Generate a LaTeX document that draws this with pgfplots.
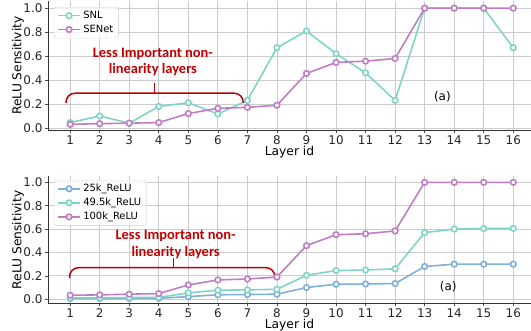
\documentclass[border=0pt]{standalone}
\usepackage{pgfplots}
\pgfplotsset{compat=1.18}
\usepackage{fontspec}
\setmainfont{DejaVu Sans}
\newfontfamily\annfont{Carlito}
\definecolor{cteal}{HTML}{80D4C4}
\definecolor{cpurple}{HTML}{C07CC4}
\definecolor{cblue}{HTML}{7EB0DA}
\definecolor{cred}{HTML}{C00000}

\pgfplotsset{
 myax/.style={
  scale only axis, width=483bp, xmin=0.25, xmax=16.6,
  axis lines=left, axis line style={-, color=black!80, line width=0.8pt},
  xtick={1,...,16}, ytick={0,0.2,0.4,0.6,0.8,1.0},
  yticklabel style={/pgf/number format/fixed, /pgf/number format/fixed zerofill, /pgf/number format/precision=1},
  grid=major, major grid style={black!20, line width=0.8pt},
  tick style={black!70, line width=0.6pt}, tick align=outside, major tick length=3bp,
  /pgf/number format/assume math mode=true,
  tick label style={font=\fontsize{12}{12}\selectfont, text=black!85},
  xticklabel style={yshift=1bp},
  yticklabel style={xshift=1bp},
  label style={font=\fontsize{12.3}{13}\selectfont},
  xlabel={Layer id},
  ylabel={ReLU Sensitivity},
  xlabel style={at={(axis description cs:0.5,0)}, anchor=center, yshift=-22bp},
  ylabel style={at={(axis description cs:-0.062,0.5)}, anchor=center},
  legend style={font=\fontsize{10}{10}\selectfont, draw=black!20, rounded corners=2pt, fill=white, fill opacity=0.8, text opacity=1, row sep=1bp, inner xsep=3bp, inner ysep=2bp},
  legend cell align=left,
  legend image code/.code={\draw[mark repeat=2, mark phase=2, ##1] plot coordinates {(0cm,0cm)(0.4cm,0cm)(0.8cm,0cm)};},
  every axis plot/.append style={line width=1.6pt, mark=*, mark size=2.8pt, mark options={fill=white, solid}},
 }
}

\begin{document}
\begin{tikzpicture}
\useasboundingbox (-48bp,-27.7bp) rectangle (483bp,303.3bp);

% ---------------- top panel ----------------
\begin{axis}[myax, at={(0,173.3bp)}, anchor=south west, height=129bp, ymin=-0.017, ymax=1.06,
  legend style={at={(0.012,0.953)}, anchor=north west}]
\addplot[cteal] coordinates {(1,0.045)(2,0.10)(3,0.04)(4,0.18)(5,0.21)(6,0.117)(7,0.23)(8,0.67)(9,0.81)(10,0.62)(11,0.46)(12,0.23)(13,1.0)(14,1.0)(15,1.0)(16,0.67)};
\addlegendentry{SNL}
\addplot[cpurple] coordinates {(1,0.03)(2,0.036)(3,0.04)(4,0.045)(5,0.12)(6,0.164)(7,0.172)(8,0.19)(9,0.455)(10,0.547)(11,0.558)(12,0.58)(13,1.0)(14,1.0)(15,1.0)(16,1.0)};
\addlegendentry{SENet}
\draw[cred, line width=1.5pt, rounded corners=9bp] (axis cs:0.86,0.21) |- (axis cs:3.86,0.29) -| (axis cs:6.86,0.21);
\draw[cred, line width=1.5pt] (axis cs:3.86,0.29) -- (axis cs:3.86,0.375);
\node[cred, font=\annfont\bfseries\fontsize{14.5}{16.7}\selectfont, align=center] at (axis cs:3.8,0.55) {Less Important non-\\linearity layers};
\node[font=\fontsize{12}{12}\selectfont] at (axis cs:13.6,0.26) {(a)};
\end{axis}

% ---------------- bottom panel ----------------
\begin{axis}[myax, at={(0,0)}, anchor=south west, height=126.8bp, ymin=-0.035, ymax=1.05,
  legend style={at={(0.012,0.972)}, anchor=north west}]
\addplot[cblue] coordinates {(1,0.006)(2,0.006)(3,0.006)(4,0.008)(5,0.022)(6,0.038)(7,0.04)(8,0.043)(9,0.10)(10,0.128)(11,0.13)(12,0.134)(13,0.28)(14,0.30)(15,0.30)(16,0.30)};
\addlegendentry{25k\_ReLU}
\addplot[cteal] coordinates {(1,0.012)(2,0.012)(3,0.014)(4,0.016)(5,0.054)(6,0.077)(7,0.08)(8,0.085)(9,0.205)(10,0.245)(11,0.25)(12,0.26)(13,0.57)(14,0.60)(15,0.605)(16,0.605)};
\addlegendentry{49.5k\_ReLU}
\addplot[cpurple] coordinates {(1,0.034)(2,0.037)(3,0.043)(4,0.048)(5,0.122)(6,0.165)(7,0.173)(8,0.19)(9,0.458)(10,0.552)(11,0.56)(12,0.584)(13,1.0)(14,1.0)(15,1.0)(16,1.0)};
\addlegendentry{100k\_ReLU}
\draw[cred, line width=1.5pt, rounded corners=9bp] (axis cs:0.98,0.18) |- (axis cs:4.5,0.27) -| (axis cs:7.93,0.18);
\draw[cred, line width=1.5pt] (axis cs:4.5,0.27) -- (axis cs:4.5,0.35);
\node[cred, font=\annfont\bfseries\fontsize{14.5}{16.7}\selectfont, align=center] at (axis cs:4.57,0.47) {Less Important non-\\linearity layers};
\node[font=\fontsize{12}{12}\selectfont] at (axis cs:13.8,0.11) {(a)};
\end{axis}
\end{tikzpicture}
\end{document}
